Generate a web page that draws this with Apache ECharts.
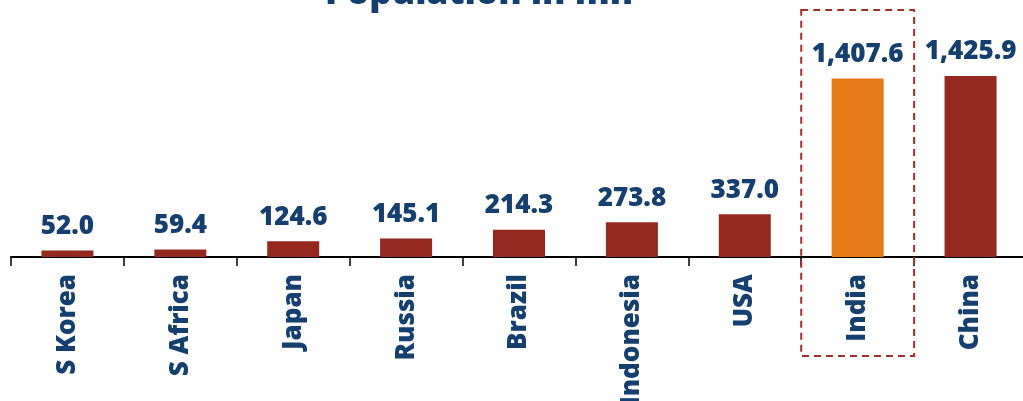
<!DOCTYPE html>
<html>
<head>
<meta charset="utf-8">
<script src="https://cdn.jsdelivr.net/npm/echarts@6/dist/echarts.min.js"></script>
<style>
  html, body { margin: 0; padding: 0; background: #fff; }
  #chart { width: 1023px; height: 401px; }
</style>
</head>
<body>
<div id="chart"></div>
<script>
var countries = ['S Korea', 'S Africa', 'Japan', 'Russia', 'Brazil', 'Indonesia', 'USA', 'India', 'China'];
var population = [52.0, 59.4, 124.6, 145.1, 214.3, 273.8, 337.0, 1407.6, 1425.9];
var highlight = 'India';

var navy = '#143f6e';
var font = 'Open Sans';
var chart = echarts.init(document.getElementById('chart'));

var option = {
    animation: false,
    title: {
        text: 'Population in mn',
        left: 474,
        textAlign: 'center',
        top: -28,
        textStyle: {
            color: navy,
            fontFamily: font,
            fontWeight: 800,
            fontSize: 35
        }
    },
    grid: {
        left: 11,
        width: 1016,
        top: 54,
        bottom: 144,
        outerBoundsMode: 'none'
    },
    xAxis: {
        type: 'category',
        data: countries,
        axisLine: { lineStyle: { color: '#000', width: 2 } },
        axisTick: { show: true, length: 9, lineStyle: { color: '#000', width: 1.5 } },
        axisLabel: {
            rotate: 90,
            margin: 17,
            color: navy,
            fontFamily: font,
            fontWeight: 800,
            fontSize: 26
        }
    },
    yAxis: {
        type: 'value',
        min: 0,
        max: 1600,
        show: false,
        splitLine: { show: false }
    },
    series: [{
        type: 'bar',
        barWidth: 52,
        data: population.map(function (v, i) {
            return {
                value: v,
                itemStyle: { color: countries[i] === highlight ? '#e67a17' : '#95281f' }
            };
        }),
        label: {
            show: true,
            position: 'top',
            distance: 11,
            color: navy,
            fontFamily: font,
            fontWeight: 800,
            fontSize: 26,
            formatter: function (p) {
                return p.value.toLocaleString('en-US', { minimumFractionDigits: 1, maximumFractionDigits: 1 });
            }
        }
    }]
};

chart.setOption(option);

// dashed box round the highlighted category
var idx = countries.indexOf(highlight);
var c = chart.convertToPixel({ xAxisIndex: 0 }, idx);
var band = chart.convertToPixel({ xAxisIndex: 0 }, 1) - chart.convertToPixel({ xAxisIndex: 0 }, 0);
chart.setOption({
    graphic: [{
        type: 'rect',
        shape: { x: c - band / 2, y: 10, width: band, height: 346 },
        style: { fill: 'none', stroke: '#a3302a', lineWidth: 2, lineDash: [7, 5] },
        z: 10
    }]
});
</script>
</body>
</html>
